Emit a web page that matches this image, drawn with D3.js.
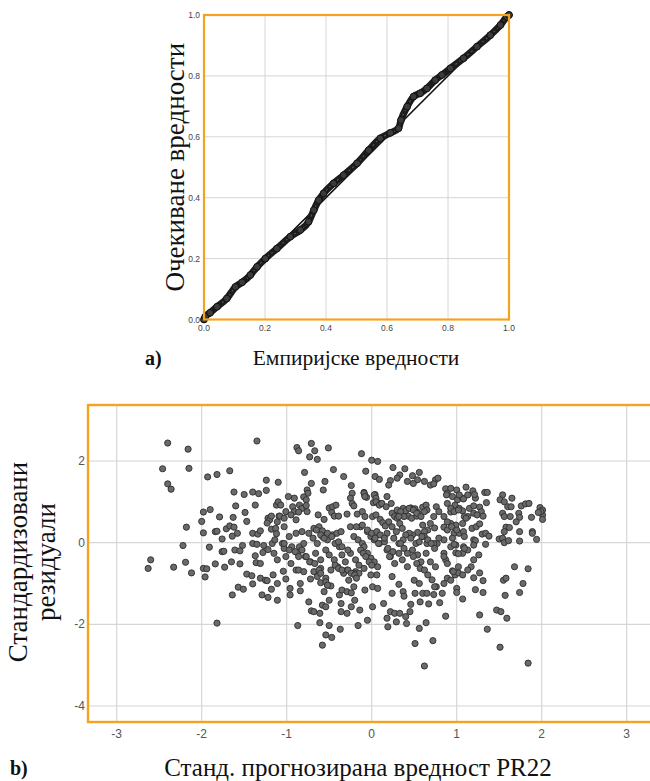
<!DOCTYPE html>
<html>
<head>
<meta charset="utf-8">
<script src="https://cdn.jsdelivr.net/npm/d3@7"></script>
<style>
  body { margin: 0; background: #fff; }
</style>
</head>
<body>
<div id="chart"></div>
<script>
// ---- panel a) P-P plot: empirical vs expected cumulative probability
var ppEmpirical = [0.000, 0.004, 0.020, 0.043, 0.075, 0.103, 0.125, 0.152, 0.174, 0.201, 0.239, 0.283, 0.316, 0.343,
                   0.360, 0.376, 0.392, 0.425, 0.458, 0.502, 0.540, 0.578, 0.611, 0.638, 0.646, 0.666, 0.687, 0.709,
                   0.731, 0.758, 0.780, 0.808, 0.851, 0.895, 0.939, 0.972, 0.993, 1.000];
var ppExpected  = [0.000, 0.009, 0.022, 0.042, 0.069, 0.107, 0.122, 0.146, 0.173, 0.200, 0.233, 0.272, 0.294, 0.321,
                   0.359, 0.392, 0.414, 0.447, 0.474, 0.513, 0.556, 0.595, 0.613, 0.628, 0.655, 0.699, 0.732, 0.743,
                   0.759, 0.786, 0.803, 0.825, 0.858, 0.896, 0.934, 0.967, 0.994, 1.000];
var ppTicks = [0, 0.2, 0.4, 0.6, 0.8, 1.0];

// ---- panel b) standardized predicted value vs standardized residual
var residPoints = [
  [-2.40,2.44],[-2.16,2.29],[-1.35,2.49],[-2.46,1.81],[-2.15,1.82],[-2.40,1.44],[-2.36,1.31],[-1.93,1.61],[-1.82,1.67],[-1.67,1.76],[-1.24,1.53],
  [-1.62,1.24],[-1.50,1.18],[-1.40,1.24],[-1.33,1.20],[-1.24,1.28],[-1.60,0.90],[-1.37,0.92],[-1.49,0.74],
  [-1.98,0.75],[-1.90,0.81],[-1.79,0.63],[-1.63,0.62],[-1.47,0.52],[-1.22,0.60],[-1.20,0.56],[-1.23,0.48],[-2.00,0.52],[-2.18,0.38],
  [-1.71,0.34],[-1.67,0.41],[-1.62,0.38],[-1.98,0.24],[-1.84,0.27],[-1.82,0.28],[-1.76,0.09],[-1.64,0.16],[-1.58,0.23],[-1.40,0.23],[-1.34,0.21],[-1.31,0.29],
  [-1.40,-0.02],[-1.35,-0.04],[-1.27,-0.07],[-1.52,-0.07],[-1.61,-0.18],[-1.55,-0.20],[-1.37,-0.32],[-1.28,-0.24],[-1.22,-0.17],
  [-1.91,-0.11],[-1.76,-0.22],[-1.74,-0.21],[-2.22,-0.07],[-1.84,-0.52],[-1.73,-0.60],[-1.65,-0.47],[-1.55,-0.52],[-1.36,-0.49],[-1.31,-0.51],
  [-2.60,-0.42],[-2.63,-0.63],[-2.33,-0.60],[-2.19,-0.48],[-1.98,-0.63],[-1.94,-0.64],
  [-1.18,0.33],[-1.13,0.35],[-1.12,0.22],[-1.17,-0.02],[-1.14,0.07],[-1.12,0.92],[-1.10,1.00],[-1.09,0.65],
  [-0.88,2.33],[-0.86,2.25],[-0.71,2.43],[-0.67,2.25],[-0.73,2.10],[-0.64,2.04],[-0.51,2.32],[-0.12,2.18],[0.00,2.02],[0.07,1.99],
  [-0.79,1.72],[-0.45,1.79],[-0.33,1.62],[-0.07,1.75],[0.04,1.62],[0.09,1.55],[0.25,1.84],[0.39,1.81],[0.33,1.66],[0.30,1.58],[0.22,1.52],[0.20,1.41],
  [0.48,1.64],[0.56,1.72],[0.42,1.50],[0.49,1.45],[0.54,1.54],[0.62,1.50],[0.69,1.41],[0.75,1.54],[0.78,1.58],[0.73,1.44],
  [0.87,1.32],[0.89,1.21],
  [-1.10,1.48],[-0.71,1.45],[-0.55,1.50],[-0.24,1.40],[-0.76,1.29],[-0.75,1.21],[-0.57,1.29],[-0.09,1.23],[-0.23,1.21],[-0.25,1.09],[-0.08,1.15],[-0.06,1.11],[0.04,1.18],[0.18,1.13],[0.07,0.98],[0.10,0.96],
  [-1.07,0.92],[-0.98,1.13],[-0.91,1.09],[-0.80,1.12],[-0.77,1.05],[-0.85,0.92],[-0.82,0.84],[-0.77,0.91],[-0.93,0.88],[-0.91,0.76],[-0.86,0.75],[-0.76,0.76],
  [-1.01,0.76],[-0.95,0.68],[-0.89,0.56],[-1.08,0.65],[-1.03,0.60],[-0.63,0.68],[-0.56,0.57],[-0.50,0.85],[-0.46,0.88],[-0.42,0.92],[-0.47,0.74],[-0.44,0.65],[-0.39,0.65],[-0.29,0.70],
  [-0.23,0.96],[-0.21,0.90],[-0.17,0.70],[-0.11,0.76],[-0.08,0.64],[0.01,0.64],[0.05,0.68],[0.10,0.57],[0.13,0.49],[0.16,0.41],[0.24,0.72],[0.27,0.64],[0.32,0.76],
  [0.37,0.84],[0.40,0.78],[0.46,0.85],[0.51,0.83],[0.54,0.74],[0.60,0.87],[0.64,0.92],[0.65,0.80],[0.76,0.88],[0.79,0.76],[0.73,0.64],[0.43,0.65],[0.47,0.60],[0.53,0.65],
  [0.88,1.17],[0.95,1.13],[1.01,1.05],[1.07,1.09],[0.89,0.96],[0.98,0.92],[0.93,0.75],
  [0.85,0.38],[0.89,0.31],[0.97,0.23],[0.95,0.11],[0.69,0.47],[0.74,0.36],[0.66,0.31],[0.60,0.43],[0.62,0.27],[0.54,0.25],[0.48,0.19],[0.44,0.23],
  [0.30,0.60],[0.33,0.47],[0.36,0.35],[0.20,0.51],[0.24,0.39],[0.29,0.27],[0.40,0.19],
  [0.77,-0.02],[0.85,0.07],[0.99,-0.06],
  [-1.18,0.65],[-1.11,0.51],[-1.03,0.39],[-1.05,-0.02],
  [-0.97,0.15],[-0.89,0.23],[-0.82,0.27],[-0.94,-0.10],[-0.85,-0.10],[-0.80,-0.02],
  [-0.74,0.23],[-0.68,0.35],[-0.62,0.39],[-0.58,0.29],[-0.69,0.11],[-0.64,-0.02],[-0.58,0.15],[-0.52,0.07],[-0.46,0.19],[-0.41,0.23],
  [-0.36,0.27],[-0.25,0.39],[-0.13,0.39],[-0.05,0.27],[-0.21,0.15],[-0.16,0.07],[-0.11,-0.02],
  [-0.01,0.15],[0.03,0.07],[0.09,-0.02],[0.15,0.02],[0.18,0.23],[0.26,0.11],[0.32,-0.02],[0.37,0.07],[0.46,0.11],[0.52,-0.02],[0.56,0.02],[0.62,0.15],[0.65,-0.02],[0.73,-0.02],
  [0.85,-0.26],[0.93,-0.10],[0.99,-0.25],[1.07,-0.26],[1.13,-0.18],
  [-1.15,-0.26],[-1.11,-0.42],[-1.03,-0.14],[-1.01,-0.34],[-0.95,-0.51],[-0.87,-0.26],[-0.82,-0.18],[-0.78,-0.34],[-0.72,-0.47],[-0.66,-0.26],[-0.60,-0.42],
  [-0.54,-0.18],[-0.50,-0.30],[-0.44,-0.42],[-0.38,-0.10],[-0.35,-0.30],[-0.31,-0.47],[-0.25,-0.26],[-0.19,-0.42],[-0.15,-0.55],[-0.09,-0.10],[-0.05,-0.26],[-0.01,-0.38],
  [0.03,-0.47],[0.07,-0.59],[0.18,-0.18],[0.22,-0.34],[0.27,-0.51],[0.32,-0.26],[0.36,-0.42],[0.42,-0.59],[0.48,-0.18],[0.54,-0.30],[0.58,-0.47],
  [0.64,-0.26],[0.69,-0.47],[0.75,-0.59],[0.87,-0.42],
  [-0.89,-0.67],[-0.68,-0.71],[-0.60,-0.63],[-0.48,-0.67],[-0.40,-0.59],[-0.29,-0.67],[-0.19,-0.71],
  [0.93,1.33],[1.00,1.29],[1.03,1.17],[1.08,1.07],[1.11,1.36],[1.13,1.17],[1.19,1.27],[1.22,1.09],[1.21,1.18],[1.33,1.23],[1.36,1.23],[1.35,0.98],
  [1.54,1.17],[1.51,1.05],[1.56,1.00],[1.65,1.09],[1.60,0.88],[1.64,0.88],[1.76,0.90],[1.81,0.95],[1.85,0.96],
  [1.98,0.86],[2.01,0.80],[2.01,0.68],[2.01,0.57],[1.99,0.76],[1.96,0.74],
  [0.93,0.84],[0.97,0.76],[1.03,0.84],[1.07,0.78],[1.13,0.64],[1.09,0.64],[1.02,0.80],[1.15,0.84],[1.20,0.90],[1.27,0.87],[1.29,0.76],[1.20,0.72],[1.24,0.68],[1.31,0.65],
  [1.54,0.72],[1.56,0.64],[1.63,0.64],[1.73,0.72],[1.74,0.62],[1.70,0.51],[1.88,0.62],[1.89,0.27],[1.89,0.23],
  [0.93,0.47],[0.99,0.43],[1.03,0.23],[1.08,0.27],[1.09,0.15],[1.18,0.35],[1.23,0.39],[1.27,0.46],[1.30,0.21],[1.34,0.23],[1.38,0.16],
  [1.20,0.07],[1.22,0.05],[1.20,-0.06],[1.34,-0.04],[1.50,0.09],[1.54,0.11],[1.56,0.00],[1.61,0.05],[1.58,0.38],[1.62,0.37],[1.56,0.27],
  [1.74,0.27],[1.74,0.04],[1.94,0.08],[0.97,-0.04],[1.08,-0.10],[1.09,-0.14],[1.02,-0.27],[1.26,-0.30],
  [-2.12,-0.74],[-1.96,-0.84],[-1.47,-0.77],[-1.41,-0.81],[-1.40,-1.01],[-1.57,-1.09],[-1.51,-1.14],[-1.64,-1.28],[-1.31,-0.87],[-1.25,-0.92],[-1.23,-0.93],
  [-1.16,-0.79],[-1.11,-1.00],[-1.18,-1.14],[-1.29,-1.28],[-1.22,-1.34],[-1.11,-1.41],[-1.82,-1.97],
  [-1.04,-0.70],[-1.01,-0.89],[-0.96,-1.28],[-0.96,-1.12],[-0.86,-0.67],[-0.84,-1.00],[-0.84,-1.18],[-0.87,-2.03],
  [-0.74,-1.45],[-0.71,-1.67],[-0.68,-1.69],[-0.61,-1.73],[-0.58,-1.53],[-0.54,-1.57],[-0.50,-1.41],[-0.56,-1.20],[-0.52,-1.04],[-0.48,-1.06],[-0.54,-0.87],[-0.60,-0.98],[-0.64,-0.83],[-0.72,-0.89],[-0.80,-0.71],
  [-0.61,-1.96],[-0.50,-2.03],[-0.54,-2.26],[-0.47,-2.32],[-0.58,-2.51],[-0.37,-2.12],
  [-0.38,-1.28],[-0.36,-1.49],[-0.36,-1.69],[-0.29,-1.73],[-0.24,-1.57],[-0.20,-1.41],[-0.14,-1.65],[-0.16,-2.03],[-0.05,-1.90],
  [-0.35,-1.16],[-0.29,-1.20],[-0.24,-1.23],[-0.21,-1.08],[-0.27,-0.92],[-0.33,-0.75],[-0.21,-0.75],[-0.15,-0.75],
  [-0.08,-1.16],[0.01,-1.57],[0.01,-1.08],[0.07,-1.12],[0.14,-1.49],[0.06,-0.79],[-0.01,-0.79],
  [0.18,-1.85],[0.19,-2.06],[0.22,-1.69],[0.27,-1.73],[0.29,-1.94],[0.33,-1.73],[0.40,-1.81],[0.41,-1.98],[0.45,-1.69],[0.46,-1.51],[0.24,-1.24],[0.24,-0.83],[0.32,-1.02],[0.37,-1.20],[0.38,-1.31],
  [0.50,-0.92],[0.56,-1.00],[0.51,-1.24],[0.57,-1.45],[0.67,-1.50],[0.60,-1.24],[0.65,-1.24],[0.73,-1.27],[0.76,-1.08],[0.83,-1.24],[0.80,-1.47],[0.87,-1.80],[0.85,-1.00],[0.89,-0.87],
  [0.56,-2.10],[0.64,-1.96],[0.51,-2.47],[0.72,-2.40],[0.62,-3.02],
  [0.95,-0.69],[0.98,-0.79],[1.02,-0.74],[0.93,-0.92],[1.00,-1.12],[1.00,-1.22],[1.07,-1.38],[1.17,-0.59],[1.20,-0.42],[1.20,-0.86],[1.27,-0.74],[1.31,-0.93],
  [1.22,-1.15],[1.31,-1.22],[1.27,-1.77],[1.36,-2.12],[1.47,-1.65],[1.52,-1.69],[1.59,-1.85],[1.55,-0.92],[1.58,-0.87],[1.57,-1.29],[1.68,-0.59],[1.84,-0.64],
  [1.78,-1.00],[1.74,-1.22],[1.51,-2.56],[1.84,-2.95],
  // denser middle of the cloud
  [-0.09,1.21],[-0.08,1.13],[0.03,1.17],[0.05,1.09],[0.02,0.98],[0.05,1.00],[0.09,0.92],[0.12,0.96],[0.17,0.88],[0.23,0.96],
  [0.30,0.80],[0.34,0.76],[0.38,0.64],[0.32,0.64],[0.44,0.84],[0.49,0.80],[0.53,0.72],[0.58,0.64],[0.62,0.76],
  [-0.18,0.39],[-0.11,0.43],[-0.05,0.31],[0.00,0.23],[0.06,0.27],[0.10,0.19],
  [-0.13,-0.18],[-0.10,-0.26],[-0.07,-0.34],[-0.03,-0.47],[0.00,-0.55],[-0.09,-0.63],
  [0.04,0.11],[0.08,-0.02],[0.15,0.11],[0.19,-0.14],[0.21,-0.34],[0.25,-0.22],
  [0.34,-0.02],[0.38,-0.14],[0.42,-0.26],[0.49,-0.34],[0.53,-0.51],[0.57,-0.63],[0.62,-0.67],[0.66,-0.79],[0.71,-0.91],[0.74,-1.08],
  [0.59,0.15],[0.66,0.07],[0.70,-0.02],[0.74,-0.14],[0.79,0.11],
  [-0.65,0.31],[-0.60,0.19],[-0.56,0.11],[-0.52,0.23],[-0.47,0.15],[-0.43,-0.02],[-0.39,0.02],[-0.35,-0.10],[-0.28,-0.18],
  [-0.43,-0.55],[-0.39,-0.63],[-0.35,-0.67],[-0.28,-0.67],[-0.24,-0.75],[-0.20,-0.79],[-0.18,-0.87],
  [-0.77,-0.34],[-0.73,-0.47],[-0.67,-0.51],[-0.62,-0.67],[-0.60,-0.75],[-0.54,-0.96],[-0.52,-1.04],
  [-1.03,-0.02],[-0.97,-0.18],[-0.90,-0.22],[-0.86,-0.34],
  [0.85,0.64],[0.89,0.51],[0.94,0.39],[1.00,0.31],[1.07,0.47],[1.11,0.60],
  [0.85,-0.34],[0.89,-0.51],[0.96,-0.71],[1.02,-0.59],[1.07,-0.79],[1.13,-0.67]
];
var predTicks = [-3, -2, -1, 0, 1, 2, 3];
var residTicks = [2, 0, -2, -4];

var frameColor = "#f5a31f";
var gridColor = "#d6d6d6";
var serif = "'Liberation Serif', 'Times New Roman', serif";
var sans = "'Liberation Sans', Arial, sans-serif";

var svg = d3.select("#chart")
    .append("svg")
        .attr("width", 650)
        .attr("height", 781);

// ================= panel a =================
var xa = d3.scaleLinear().domain([0, 1]).range([204, 509]);
var ya = d3.scaleLinear().domain([0, 1]).range([319.5, 15]);

var ga = svg.append("g");

// grid
ga.selectAll("vgrid")
    .data(ppTicks.slice(1, -1))
    .enter()
    .append("line")
        .attr("x1", function(d){ return xa(d) }).attr("x2", function(d){ return xa(d) })
        .attr("y1", ya(0)).attr("y2", ya(1))
        .attr("stroke", gridColor).attr("stroke-width", 1);
ga.selectAll("hgrid")
    .data(ppTicks.slice(1, -1))
    .enter()
    .append("line")
        .attr("y1", function(d){ return ya(d) }).attr("y2", function(d){ return ya(d) })
        .attr("x1", xa(0)).attr("x2", xa(1))
        .attr("stroke", gridColor).attr("stroke-width", 1);

// reference diagonal
ga.append("line")
    .attr("x1", xa(0)).attr("y1", ya(0))
    .attr("x2", xa(1)).attr("y2", ya(1))
    .attr("stroke", "#111").attr("stroke-width", 1.6);

// band of observed points (circles sit so close they merge into a thick line)
var ppData = ppEmpirical.map(function(d, i){ return [d, ppExpected[i]] });
var ppLine = d3.line()
    .x(function(d){ return xa(d[0]) })
    .y(function(d){ return ya(d[1]) })
    .curve(d3.curveMonotoneX);
ga.append("path")
    .datum(ppData)
    .attr("d", ppLine)
    .attr("fill", "none")
    .attr("stroke", "#1c1c1c")
    .attr("stroke-width", 7)
    .attr("stroke-linecap", "round")
    .attr("stroke-linejoin", "round");
ga.append("path")
    .datum(ppData)
    .attr("d", ppLine)
    .attr("fill", "none")
    .attr("stroke", "#555")
    .attr("stroke-width", 1.2)
    .attr("stroke-dasharray", "2,3");
ga.selectAll("ppdot")
    .data(ppData)
    .enter()
    .append("circle")
        .attr("cx", function(d){ return xa(d[0]) })
        .attr("cy", function(d){ return ya(d[1]) })
        .attr("r", 3.4)
        .attr("fill", "#3a3a3a")
        .attr("stroke", "#111")
        .attr("stroke-width", 1);

// frame
ga.append("rect")
    .attr("x", xa(0)).attr("y", ya(1))
    .attr("width", xa(1) - xa(0)).attr("height", ya(0) - ya(1))
    .attr("fill", "none").attr("stroke", frameColor).attr("stroke-width", 2.2);

// tick labels
ga.selectAll("xlab")
    .data(ppTicks)
    .enter()
    .append("text")
        .attr("x", function(d){ return xa(d) })
        .attr("y", 331)
        .attr("text-anchor", "middle")
        .attr("font-family", sans).attr("font-size", "8.5px").attr("fill", "#444")
        .text(function(d){ return d3.format(".1f")(d) });
ga.selectAll("ylab")
    .data(ppTicks)
    .enter()
    .append("text")
        .attr("x", 200)
        .attr("y", function(d){ return ya(d) + 3 })
        .attr("text-anchor", "end")
        .attr("font-family", sans).attr("font-size", "8.5px").attr("fill", "#444")
        .text(function(d){ return d3.format(".1f")(d) });

// titles
ga.append("text")
    .attr("transform", "translate(184," + ((ya(0) + ya(1)) / 2) + ") rotate(-90)")
    .attr("text-anchor", "middle")
    .attr("font-family", serif).attr("font-size", "27px").attr("fill", "#111")
    .text("Очекиване вредности");
ga.append("text")
    .attr("x", 145).attr("y", 365)
    .attr("font-family", serif).attr("font-size", "20px").attr("font-weight", "bold").attr("fill", "#111")
    .text("a)");
ga.append("text")
    .attr("x", 356).attr("y", 365)
    .attr("text-anchor", "middle")
    .attr("font-family", serif).attr("font-size", "21.5px").attr("fill", "#111")
    .text("Емпиријске вредности");

// ================= panel b =================
var xb = d3.scaleLinear().domain([-3, 3]).range([116.7, 626.7]);
var yb = d3.scaleLinear().domain([-4, 2]).range([706, 461]);
var frameB = {left: 88, top: 405, right: 672, bottom: 722};

var gb = svg.append("g");

gb.selectAll("vgrid")
    .data(predTicks)
    .enter()
    .append("line")
        .attr("x1", function(d){ return xb(d) }).attr("x2", function(d){ return xb(d) })
        .attr("y1", frameB.top).attr("y2", frameB.bottom)
        .attr("stroke", gridColor).attr("stroke-width", 1.2);
gb.selectAll("hgrid")
    .data(residTicks)
    .enter()
    .append("line")
        .attr("y1", function(d){ return yb(d) }).attr("y2", function(d){ return yb(d) })
        .attr("x1", frameB.left).attr("x2", frameB.right)
        .attr("stroke", gridColor).attr("stroke-width", 1.2);

gb.selectAll("dot")
    .data(residPoints)
    .enter()
    .append("circle")
        .attr("cx", function(d){ return xb(d[0]) })
        .attr("cy", function(d){ return yb(d[1]) })
        .attr("r", 3.1)
        .attr("fill", "#6a6a6a")
        .attr("stroke", "#2e2e2e")
        .attr("stroke-width", 0.9);

gb.append("rect")
    .attr("x", frameB.left).attr("y", frameB.top)
    .attr("width", frameB.right - frameB.left).attr("height", frameB.bottom - frameB.top)
    .attr("fill", "none").attr("stroke", frameColor).attr("stroke-width", 2.4);

gb.selectAll("xlab")
    .data(predTicks)
    .enter()
    .append("text")
        .attr("x", function(d){ return xb(d) })
        .attr("y", 738)
        .attr("text-anchor", "middle")
        .attr("font-family", sans).attr("font-size", "12px").attr("fill", "#555")
        .text(function(d){ return d });
gb.selectAll("ylab")
    .data(residTicks)
    .enter()
    .append("text")
        .attr("x", 85)
        .attr("y", function(d){ return yb(d) + 4 })
        .attr("text-anchor", "end")
        .attr("font-family", sans).attr("font-size", "12px").attr("fill", "#555")
        .text(function(d){ return d });

gb.append("text")
    .attr("transform", "translate(27,562) rotate(-90)")
    .attr("text-anchor", "middle")
    .attr("font-family", serif).attr("font-size", "27px").attr("fill", "#111")
    .text("Стандардизовани");
gb.append("text")
    .attr("transform", "translate(55,562) rotate(-90)")
    .attr("text-anchor", "middle")
    .attr("font-family", serif).attr("font-size", "27px").attr("fill", "#111")
    .text("резидуали");
gb.append("text")
    .attr("x", 10).attr("y", 775)
    .attr("font-family", serif).attr("font-size", "20px").attr("font-weight", "bold").attr("fill", "#111")
    .text("b)");
gb.append("text")
    .attr("x", 358).attr("y", 776)
    .attr("text-anchor", "middle")
    .attr("font-family", serif).attr("font-size", "25px").attr("fill", "#111")
    .text("Станд. прогнозирана вредност PR22");
</script>
</body>
</html>
